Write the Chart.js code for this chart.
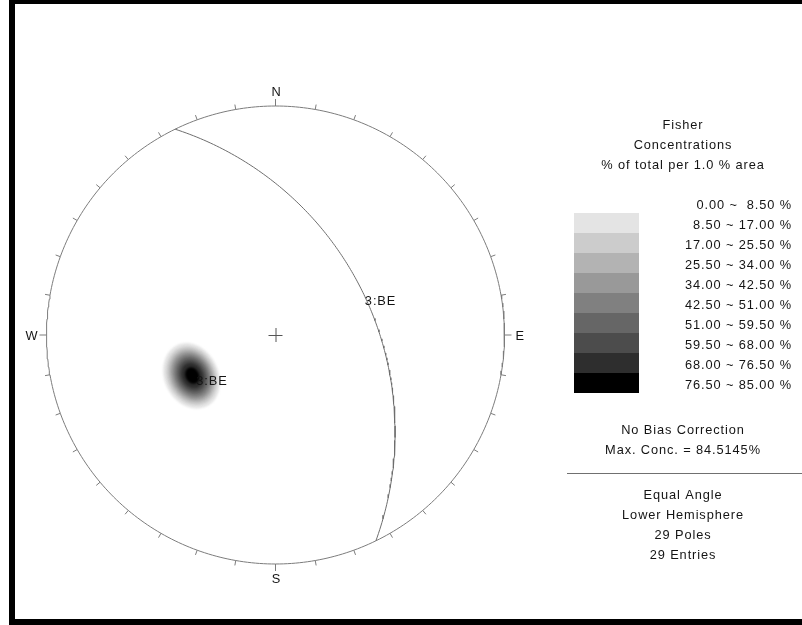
<!DOCTYPE html>
<html>
<head>
<meta charset="utf-8">
<title>Fisher Concentrations – Equal Angle Stereonet</title>
<script src="https://cdn.jsdelivr.net/npm/chart.js@4.4.1/dist/chart.umd.min.js"></script>
<style>
  html, body { margin: 0; padding: 0; background: #ffffff; }
  #wrap { position: relative; width: 802px; height: 625px; overflow: hidden; }
  #net { position: absolute; left: 0; top: 0; }
  .bar { position: absolute; background: #000; }
</style>
</head>
<body>
<div id="wrap">
  <canvas id="net" width="802" height="625"></canvas>
  <div class="bar" style="left:9px;top:0;width:793px;height:4px;"></div>
  <div class="bar" style="left:9px;top:0;width:6px;height:625px;"></div>
  <div class="bar" style="left:9px;top:619px;width:793px;height:6px;"></div>
</div>
<script>
// ---- data ---------------------------------------------------------------
// Contour class bounds (% of total per 1.0 % area) and their fill shades
const levelBounds = [0.00, 8.50, 17.00, 25.50, 34.00, 42.50, 51.00, 59.50, 68.00, 76.50, 85.00];
const levelColors = ['#ffffff', '#e4e4e4', '#cccccc', '#b3b3b3', '#999999', '#808080', '#666666', '#4c4c4c', '#2e2e2e', '#000000'];

// Peak of the pole concentration (set 3)
const poleTrend = 244;
const polePlunge = 46;
// Half-widths (degrees) of each contour around the peak, for classes 1..9,
// radial (along the trend) and tangential (across it)
const coneRadial     = [11.5, 10.3, 9.3, 8.4, 7.5, 6.6, 5.6, 4.5, 2.9];
const coneTangential = [14.5, 13.0, 11.8, 10.7, 9.6, 8.4, 7.1, 5.7, 3.7];

// Mean plane of set 3
const planeDipDir = 64;
const planeDip = 44;
const setLabel = '3:BE';

// Compass labels every 90 degrees
const compassTrends = [0, 90, 180, 270];
const compassLabels = ['N', 'E', 'S', 'W'];

const maxConcentration = 84.5145;
const poleCount = 29;
const entryCount = 29;

// ---- stereographic (equal angle, lower hemisphere) helpers ---------------
const D2R = Math.PI / 180;
function vec(trend, plunge) {
  const t = trend * D2R, p = plunge * D2R;
  return [Math.cos(p) * Math.sin(t), Math.cos(p) * Math.cos(t), Math.sin(p)];
}
function project(v) {
  let [e, n, d] = v;
  if (d < 0) { e = -e; n = -n; d = -d; }
  const plunge = Math.asin(Math.min(1, d));
  const horiz = Math.hypot(e, n);
  const r = Math.tan((Math.PI / 2 - plunge) / 2);
  if (horiz < 1e-12) return { x: 0, y: 0 };
  return { x: r * e / horiz, y: r * n / horiz };
}
function projectTP(trend, plunge) { return project(vec(trend, plunge)); }

// Primitive circle
const primitive = [];
for (let a = 0; a <= 360; a += 1) {
  primitive.push({ x: Math.sin(a * D2R), y: Math.cos(a * D2R) });
}

// Great circle of the plane: sweep from strike through dip vector to opposite strike
const greatCircle = [];
{
  const s = vec(planeDipDir - 90, 0);
  const dv = vec(planeDipDir, planeDip);
  for (let i = 0; i <= 180; i++) {
    const t = i * D2R;
    const v = [0, 1, 2].map(k => Math.cos(t) * s[k] + Math.sin(t) * dv[k]);
    greatCircle.push(project(v));
  }
}

// Contour outline for class k (1..9): an elliptical cone around the peak
function contourRing(k) {
  const a = coneRadial[k - 1] * D2R, b = coneTangential[k - 1] * D2R;
  const T = poleTrend * D2R, P = polePlunge * D2R;
  const c = vec(poleTrend, polePlunge);
  const ea = [-Math.sin(P) * Math.sin(T), -Math.sin(P) * Math.cos(T), Math.cos(P)];
  const eb = [Math.cos(T), -Math.sin(T), 0];
  const pts = [];
  for (let f = 0; f < 360; f += 4) {
    const phi = f * D2R;
    const rho = a * b / Math.hypot(b * Math.cos(phi), a * Math.sin(phi));
    const v = [0, 1, 2].map(i => Math.cos(rho) * c[i] +
      Math.sin(rho) * (Math.cos(phi) * ea[i] + Math.sin(phi) * eb[i]));
    pts.push(project(v));
  }
  return pts;
}

// ---- drawing -----------------------------------------------------------
const FONT = '12.8px "Liberation Sans", Arial, Helvetica, sans-serif';
const TEXT = '#141414';
const LINE = '#7c7c7c';

function setText(ctx, align, baseline) {
  ctx.font = FONT;
  ctx.fillStyle = TEXT;
  ctx.textAlign = align;
  ctx.textBaseline = baseline;
  if ('letterSpacing' in ctx) ctx.letterSpacing = '0.9px';
}

const contourPlugin = {
  id: 'contours',
  beforeDatasetsDraw(chart) {
    const { ctx, scales: { x, y } } = chart;
    ctx.save();
    ctx.filter = 'blur(1.1px)';
    for (let k = 1; k < levelColors.length; k++) {
      const ring = contourRing(k);
      ctx.beginPath();
      ring.forEach((p, i) => {
        const px = x.getPixelForValue(p.x), py = y.getPixelForValue(p.y);
        if (i === 0) ctx.moveTo(px, py); else ctx.lineTo(px, py);
      });
      ctx.closePath();
      ctx.fillStyle = levelColors[k];
      ctx.fill();
    }
    ctx.restore();
  }
};

const annotatePlugin = {
  id: 'annotate',
  afterDatasetsDraw(chart) {
    const { ctx, scales: { x, y } } = chart;
    const cx = x.getPixelForValue(0), cy = y.getPixelForValue(0);
    const R = x.getPixelForValue(1) - cx;
    ctx.save();

    // azimuth ticks every 10 degrees, longer ones at the compass points
    ctx.strokeStyle = LINE;
    ctx.lineWidth = 1;
    for (let az = 0; az < 360; az += 10) {
      const len = (az % 90 === 0) ? 7 : 5;
      const sx = Math.sin(az * D2R), sy = -Math.cos(az * D2R);
      ctx.beginPath();
      ctx.moveTo(cx + R * sx, cy + R * sy);
      ctx.lineTo(cx + (R + len) * sx, cy + (R + len) * sy);
      ctx.stroke();
    }

    // centre cross
    ctx.strokeStyle = '#555';
    ctx.beginPath();
    ctx.moveTo(cx - 7, cy + 0.5); ctx.lineTo(cx + 7, cy + 0.5);
    ctx.moveTo(cx + 0.5, cy - 7); ctx.lineTo(cx + 0.5, cy + 7);
    ctx.stroke();

    // compass letters
    compassTrends.forEach((t, i) => {
      const sx = Math.sin(t * D2R);
      if (t === 0) { setText(ctx, 'center', 'middle'); ctx.fillText(compassLabels[i], cx + 1, cy - R - 13.5); }
      if (t === 180) { setText(ctx, 'center', 'middle'); ctx.fillText(compassLabels[i], cx + 1, cy + R + 15.5); }
      if (t === 90) { setText(ctx, 'left', 'middle'); ctx.fillText(compassLabels[i], cx + R * sx + 11, cy + 1); }
      if (t === 270) { setText(ctx, 'right', 'middle'); ctx.fillText(compassLabels[i], cx + R * sx - 8, cy + 1); }
    });

    // set labels: pole peak and plane
    const pole = projectTP(poleTrend, polePlunge);
    setText(ctx, 'left', 'middle');
    ctx.fillText(setLabel, x.getPixelForValue(pole.x) + 4, y.getPixelForValue(pole.y) + 6);
    const mid = projectTP(planeDipDir, planeDip);
    ctx.fillText(setLabel, x.getPixelForValue(mid.x) + 2, y.getPixelForValue(mid.y) + 9);

    // ---- side panel ----
    const colX = 683;
    setText(ctx, 'center', 'middle');
    ctx.fillText('Fisher', colX, 125);
    ctx.fillText('Concentrations', colX, 145);
    ctx.fillText('% of total per 1.0 % area', colX, 165);

    const swL = 574, swW = 65, swTop = 213, rowH = 20;
    for (let k = 1; k < levelColors.length; k++) {
      ctx.fillStyle = levelColors[k];
      ctx.fillRect(swL, swTop + (k - 1) * rowH, swW, rowH);
    }
    setText(ctx, 'right', 'middle');
    for (let k = 0; k < levelBounds.length - 1; k++) {
      const lo = levelBounds[k].toFixed(2), hi = levelBounds[k + 1].toFixed(2);
      const label = lo + ' ~ ' + (hi.length < 5 ? ' ' : '') + hi + ' %';
      ctx.fillText(label, 792, 205 + k * rowH);
    }

    setText(ctx, 'center', 'middle');
    ctx.fillText('No Bias Correction', colX, 430);
    ctx.fillText('Max. Conc. = ' + maxConcentration.toFixed(4) + '%', colX, 450);

    ctx.strokeStyle = '#707070';
    ctx.lineWidth = 1;
    ctx.beginPath();
    ctx.moveTo(567, 473.5); ctx.lineTo(802, 473.5);
    ctx.stroke();

    setText(ctx, 'center', 'middle');
    ctx.fillText('Equal Angle', colX, 495);
    ctx.fillText('Lower Hemisphere', colX, 515);
    ctx.fillText(poleCount + ' Poles', colX, 535);
    ctx.fillText(entryCount + ' Entries', colX, 555);

    ctx.restore();
  }
};

// Net centre at (275.5, 335) px with a 229 px radius: axis limits in net units
const NET_R = 229, NET_CX = 275.5, NET_CY = 335, W = 802, H = 625;

new Chart(document.getElementById('net'), {
  type: 'scatter',
  data: {
    datasets: [
      { label: 'primitive', data: primitive, showLine: true, borderColor: LINE, borderWidth: 1,
        pointRadius: 0, tension: 0, fill: false },
      { label: 'plane ' + setLabel, data: greatCircle, showLine: true, borderColor: '#6e6e6e', borderWidth: 1,
        pointRadius: 0, tension: 0, fill: false }
    ]
  },
  options: {
    responsive: false,
    animation: false,
    devicePixelRatio: 1,
    layout: { padding: 0 },
    plugins: { legend: { display: false }, tooltip: { enabled: false } },
    events: [],
    scales: {
      x: { type: 'linear', display: false, min: -NET_CX / NET_R, max: (W - NET_CX) / NET_R },
      y: { type: 'linear', display: false, min: -(H - NET_CY) / NET_R, max: NET_CY / NET_R }
    }
  },
  plugins: [contourPlugin, annotatePlugin]
});
</script>
</body>
</html>
